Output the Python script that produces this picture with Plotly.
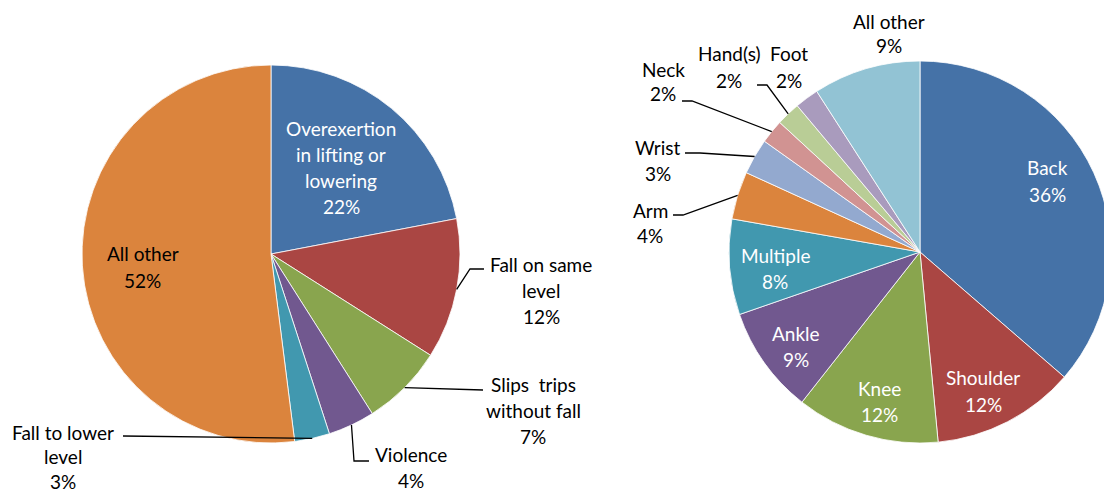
import math
import plotly.graph_objects as go

# ---------------- data ----------------
event_names = ["Overexertion in lifting or lowering", "Fall on same level",
               "Slips  trips without fall", "Violence", "Fall to lower level", "All other"]
event_values = [22, 12, 7, 4, 3, 52]
event_colors = ["#4572A7", "#AA4643", "#89A54E", "#71588F", "#4198AF", "#DB843D"]

part_names = ["Back", "Shoulder", "Knee", "Ankle", "Multiple", "Arm", "Wrist",
              "Neck", "Hand(s)", "Foot", "All other"]
part_values = [36, 12, 12, 9, 8, 4, 3, 2, 2, 2, 9]
part_colors = ["#4572A7", "#AA4643", "#89A54E", "#71588F", "#4198AF", "#DB843D",
               "#93A9CF", "#D19392", "#B9CD96", "#A99BBD", "#92C3D4"]

# label text lines (percentage line added from values)
event_label_lines = [["Overexertion", "in lifting or", "lowering"], ["Fall on same", "level"],
                     ["Slips  trips", "without fall"], ["Violence"], ["Fall to lower", "level"],
                     ["All other"]]
part_label_lines = [[n] for n in part_names]

# ---------------- layout geometry ----------------
W, H = 1112, 493
FONT = "Lato"
FS = 19
LINE = 26

left_c, left_r = (271, 254), 189
right_c, right_r = (920, 252), 191

# label placement (pixel x, first-line y, colour, line spacing)
event_label_pos = [(341, 128, "white", 26), (541, 264, "black", 26), (533, 384, "black", 26),
                   (411, 454, "black", 26), (62.5, 432, "black", 24.5), (142.5, 254, "black", 26)]
part_label_pos = [(1047, 167, "white", 27), (983, 377, "white", 27), (879, 388, "white", 26),
                  (796, 333, "white", 26), (775, 255, "white", 26.5), (650, 210, "black", 25.5),
                  (658, 147, "black", 26), (663, 69, "black", 25), (729, 54, "black", 26),
                  (789, 54, "black", 26), (889, 21, "black", 24.5)]

# leader line bends (pixel), keyed by slice index
event_leaders = {1: [(470, 269), (484, 269)], 2: [(483, 390)],
                 3: [(354, 461), (369, 461)], 4: [(123, 436)]}
part_leaders = {5: [(683, 215), (673, 215)], 6: [(700, 153), (685, 153)],
                7: [(692, 101), (682, 101)], 8: [(767, 85), (757, 85)]}


def px(x):
    return x / W


def py(y):
    return 1 - y / H


def domain(c, r):
    return dict(x=[px(c[0] - r), px(c[0] + r)], y=[py(c[1] + r), py(c[1] - r)])


def mid_point(values, i, c, r):
    tot = sum(values)
    start = sum(values[:i]) / tot
    mid = (start + values[i] / tot / 2) * 2 * math.pi
    return c[0] + r * math.sin(mid), c[1] - r * math.cos(mid)


fig = go.Figure()
for vals, names, cols, c, r in [(event_values, event_names, event_colors, left_c, left_r),
                                (part_values, part_names, part_colors, right_c, right_r)]:
    fig.add_trace(go.Pie(values=vals, labels=names,
                         marker=dict(colors=cols, line=dict(color="white", width=0.8)),
                         sort=False, direction="clockwise", rotation=0, textinfo="none",
                         hoverinfo="label+percent", domain=domain(c, r), showlegend=False))

annotations = []
shapes = []
for vals, lines_list, pos, leaders, c, r in [
        (event_values, event_label_lines, event_label_pos, event_leaders, left_c, left_r),
        (part_values, part_label_lines, part_label_pos, part_leaders, right_c, right_r)]:
    for i, v in enumerate(vals):
        lines = lines_list[i] + [f"{v}%"]
        x, y0, col, sp = pos[i]
        for k, t in enumerate(lines):
            annotations.append(dict(x=px(x), y=py(y0 + k * sp), xref="paper", yref="paper",
                                    text=t, showarrow=False, xanchor="center", yanchor="middle",
                                    font=dict(family=FONT, size=FS, color=col)))
        if i in leaders:
            pts = [mid_point(vals, i, c, r)] + leaders[i]
            path = "M " + " L ".join(f"{px(a):.5f},{py(b):.5f}" for a, b in pts)
            shapes.append(dict(type="path", path=path, xref="paper", yref="paper",
                               line=dict(color="black", width=1.3)))

fig.update_layout(width=W, height=H, margin=dict(l=0, r=0, t=0, b=0),
                  paper_bgcolor="white", plot_bgcolor="white",
                  annotations=annotations, shapes=shapes,
                  font=dict(family=FONT, size=FS))

fig.write_html("out.html", config={"displayModeBar": False},
               post_script="document.body.style.margin='0';document.body.style.overflow='hidden';"
                           "document.documentElement.style.overflow='hidden';")
